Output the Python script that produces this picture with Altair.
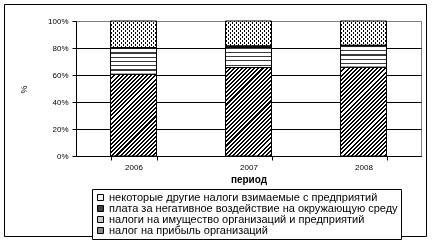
import math
import altair as alt
import pandas as pd

# ---------------- data ----------------
years = ["2006", "2007", "2008"]
categories = [
    "налог на прибыль организаций",
    "налоги на имущество организаций и предприятий",
    "плата за негативное воздействие на окружающую среду",
    "некоторые другие налоги взимаемые с предприятий",
]
profit = [60.5, 65.5, 65.7]
property_tax = [19.5, 15.0, 16.0]
environment = [0.3, 1.0, 0.3]
other = [19.7, 18.5, 18.0]
series = [profit, property_tax, environment, other]

legend_order = [categories[3], categories[2], categories[1], categories[0]]
legend_colors = ["#f4f4f4", "#404040", "#c8c8c8", "#8a8a8a"]

rows = []
for ci, (cat, vals) in enumerate(zip(categories, series)):
    for yr, v in zip(years, vals):
        rows.append({"year": yr, "category": cat, "value": v, "order": ci})
df = pd.DataFrame(rows)

# ---------------- layout ----------------
W, H = 345, 135
BAR_W = 46
FONT = "Liberation Sans"
R2 = 1 / math.sqrt(2)


def stripes(w, h, nx, ny, period, duty, fg="#000000", bg="#ffffff", phase=0.0):
    """Linear gradient that draws stripes of a given pixel period.
    (nx, ny) is the unit normal of the stripes in pixel space."""
    sx = 1 if nx >= 0 else -1
    a, b = abs(nx) * w, ny * h
    k = (a + b) / (a * a + b * b)
    gx, gy = k * a, k * b
    D = a + b
    stops = []
    n = int(math.ceil((D + period) / period))
    for i in range(n):
        s0 = (i - 1) * period + phase
        s = round(min(1.0, max(0.0, s0 / D)), 5)
        m = round(min(1.0, max(0.0, (s0 + duty * period) / D)), 5)
        e = round(min(1.0, max(0.0, (s0 + period) / D)), 5)
        stops += [
            {"offset": s, "color": fg},
            {"offset": m, "color": fg},
            {"offset": m, "color": bg},
            {"offset": e, "color": bg},
        ]
    if sx > 0:
        x1, x2 = 0, round(gx, 5)
    else:
        x1, x2 = 1, round(1 - gx, 5)
    return {"gradient": "linear", "x1": x1, "y1": 0, "x2": x2,
            "y2": round(gy, 5), "stops": stops}


y_scale = alt.Scale(domain=[0, 100], nice=False, zero=True)
y_axis = alt.Axis(
    values=[0, 20, 40, 60, 80, 100],
    labelExpr="datum.value + '%'",
    title="%",
    titleX=-53,
    titleY=68,
    titleAlign="center",
    titleBaseline="middle",
    titleFontSize=9,
    titleFontWeight="normal",
    titleFont=FONT,
    labelFont=FONT,
    labelFontSize=8,
    labelColor="black",
    labelPadding=4,
    tickSize=4,
    tickColor="black",
    domainColor="black",
    grid=True,
    gridColor=alt.condition("datum.value === 100", alt.value("#808080"), alt.value("black")),
    gridOpacity=1,
)
x_scale = alt.Scale(paddingInner=0.6, paddingOuter=0.3)
x_axis = alt.Axis(
    title="период",
    titleFont=FONT,
    titleFontSize=10,
    titleFontWeight="bold",
    titleY=23,
    titleBaseline="middle",
    labelAngle=0,
    labelFont=FONT,
    labelFontSize=8,
    labelColor="black",
    labelPadding=3,
    tickBand="extent",
    tickSize=4,
    tickColor="black",
    domainColor="black",
    grid=False,
)

x_enc = alt.X("year:N", scale=x_scale, axis=x_axis)
y_enc = alt.Y("y1:Q", scale=y_scale, axis=y_axis)
y2_enc = alt.Y2("y0:Q")

base = alt.Chart(df).transform_stack(
    stack="value", groupby=["year"], as_=["y0", "y1"],
    sort=[alt.SortField("order", "ascending")],
)

layers = []
for yi, yr in enumerate(years):
    for ci, cat in enumerate(categories):
        v = series[ci][yi]
        h = max(v * H / 100.0, 1.0)
        sub = base.transform_filter(
            (alt.datum.year == yr) & (alt.datum.category == cat)
        )
        enc = dict(x=x_enc, y=y_enc, y2=y2_enc)
        if ci == 0:  # diagonal hatch
            g = stripes(BAR_W, h, R2, R2, 2.9, 0.5)
            layers.append(sub.mark_bar(fill=g, strokeWidth=0).encode(**enc))
        elif ci == 1:  # wavy -> thin horizontal lines
            g = stripes(BAR_W, h, 0, 1, 4.3, 0.28, fg="#3a3a3a")
            layers.append(sub.mark_bar(fill=g, strokeWidth=0).encode(**enc))
        elif ci == 2:  # dark fill
            layers.append(sub.mark_bar(fill="#303030", strokeWidth=0).encode(**enc))
        else:  # dots: two diagonal line families, intersected with "lighten"
            g1 = stripes(BAR_W, h, R2, R2, 2.83, 0.38)
            g2 = stripes(BAR_W, h, -R2, R2, 2.83, 0.38)
            layers.append(sub.mark_bar(fill=g1, strokeWidth=0).encode(**enc))
            layers.append(sub.mark_bar(fill=g2, strokeWidth=0, blend="lighten").encode(**enc))

# outlines of every segment
outline = base.mark_bar(fillOpacity=0, stroke="black", strokeWidth=1).encode(
    x=x_enc, y=y_enc, y2=y2_enc
)

# zero-height bars only to carry the legend
legend_layer = base.mark_bar(strokeWidth=0).encode(
    x=x_enc,
    y=alt.Y("y0:Q", scale=y_scale, axis=y_axis),
    y2=alt.Y2("y0:Q"),
    color=alt.Color(
        "category:N",
        scale=alt.Scale(domain=legend_order, range=legend_colors),
        legend=alt.Legend(
            title=None,
            orient="none",
            legendX=16,
            legendY=168,
            direction="vertical",
            symbolType="square",
            symbolSize=36,
            symbolStrokeColor="black",
            symbolStrokeWidth=1,
            labelFont=FONT,
            labelFontSize=11,
            labelColor="black",
            labelOffset=3,
            labelLimit=400,
            rowPadding=-2,
            padding=3,
            strokeColor="black",
            fillColor="white",
        ),
    ),
)

frame = alt.Chart(alt.Data(values=[{"a": 1}])).mark_rect(
    fillOpacity=0, stroke="black", strokeWidth=1
).encode(
    x=alt.value(-71.5), x2=alt.value(350.5), y=alt.value(-16.5), y2=alt.value(215.5)
)

chart = alt.layer(*layers, outline, legend_layer, frame).properties(
    width=W,
    height=H,
    autosize=alt.AutoSizeParams(type="none"),
    padding={"left": 76, "top": 21, "right": 12, "bottom": 87},
    background="white",
).configure_view(stroke="#808080", strokeWidth=1)

chart.save("out.html", embed_options={"renderer": "svg", "actions": False})
